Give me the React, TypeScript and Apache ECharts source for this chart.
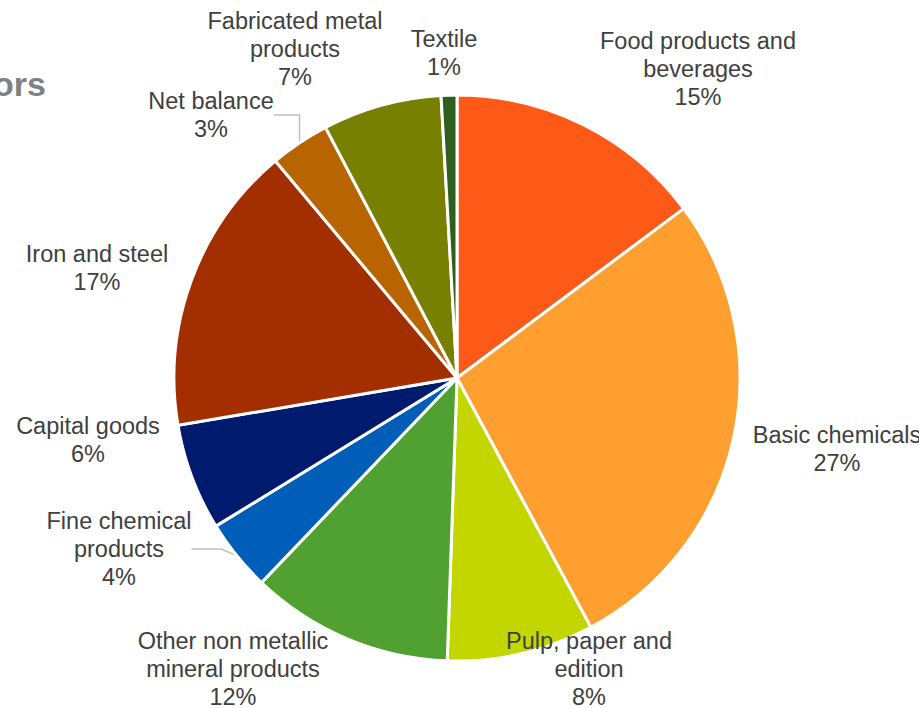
import React, { useEffect, useRef } from "react";
import * as echarts from "echarts";

const categories = [
  "Food products and\nbeverages",
  "Basic chemicals",
  "Pulp, paper and\nedition",
  "Other non metallic\nmineral products",
  "Fine chemical\nproducts",
  "Capital goods",
  "Iron and steel",
  "Net balance",
  "Fabricated metal\nproducts",
  "Textile",
];
const values = [14.8, 27.4, 8.4, 11.6, 4.1, 6.1, 16.6, 3.4, 6.8, 0.9];
const colors = [
  "#FC5A16",
  "#FF9F2F",
  "#C4D600",
  "#50A032",
  "#005EB8",
  "#001A6E",
  "#A32E00",
  "#B86400",
  "#778000",
  "#2F5F1E",
];
const withLeader = [false, false, false, false, true, false, false, true, false, false];
// label centres (layout only)
const labelPos: [number, number][] = [
  [698, 69],
  [837, 449],
  [589, 669],
  [233, 669],
  [119, 549],
  [88, 440],
  [97, 268],
  [211, 115],
  [295, 49],
  [444, 53],
];
const titleText = "Final energy consumption by sectors";

export default function App() {
  const ref = useRef<HTMLDivElement>(null);
  useEffect(() => {
    if (!ref.current) return;
    const chart = echarts.init(ref.current, undefined, { renderer: "svg" });
    chart.setOption({
      animation: false,
      backgroundColor: "#ffffff",
      graphic: [
        {
          type: "text",
          x: 46,
          y: 84,
          style: {
            text: titleText,
            textAlign: "right",
            textVerticalAlign: "middle",
            font: "bold 34px 'Liberation Sans', Arial, sans-serif",
            fill: "#808080",
          },
        },
      ],
      series: [
        {
          type: "pie",
          center: [457, 378],
          radius: 283,
          startAngle: 90,
          clockwise: true,
          avoidLabelOverlap: false,
          itemStyle: { borderColor: "#ffffff", borderWidth: 3 },
          label: {
            show: true,
            position: "outside",
            color: "#404040",
            fontFamily: "'Liberation Sans', Arial, sans-serif",
            fontSize: 23.5,
            lineHeight: 28,
            align: "center",
            formatter: (p: any) => `${p.name}\n${Math.round(p.percent)}%`,
          },
          labelLine: {
            show: false,
            lineStyle: { color: "#BFBFBF", width: 1.5 },
          },
          labelLayout: (p: any) => {
            const pos = labelPos[p.dataIndex];
            return {
              x: pos[0],
              y: pos[1],
              align: "center",
              verticalAlign: "middle",
            };
          },
          data: categories.map((name, i) => ({
            name,
            value: values[i],
            itemStyle: { color: colors[i] },
            labelLine: { show: withLeader[i] },
          })),
        },
      ],
    });
    return () => chart.dispose();
  }, []);
  return (
    <div
      ref={ref}
      style={{ position: "absolute", left: 0, top: 0, width: 919, height: 708 }}
    />
  );
}
